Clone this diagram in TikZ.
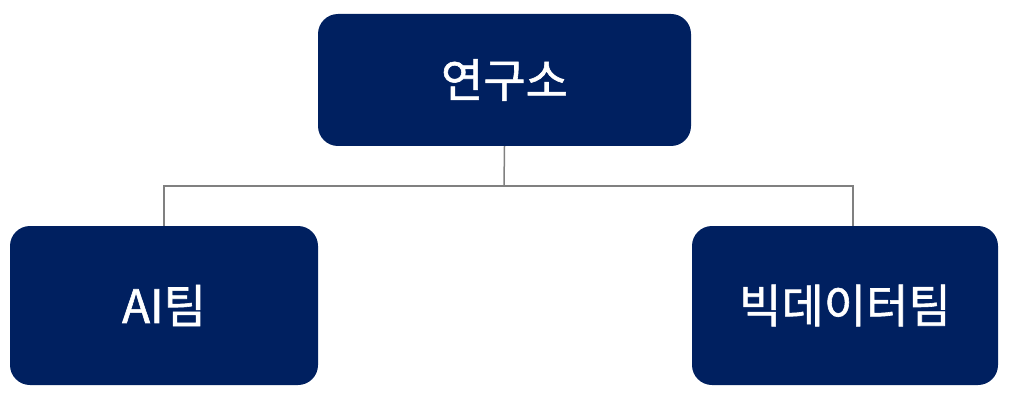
\documentclass[tikz,border=0pt]{standalone}
\usepackage{fontspec}
\usepackage{tikz}
\newfontfamily\krfont[FakeBold=1.3]{Noto Sans CJK KR}
\definecolor{navy}{HTML}{002060}
\definecolor{linegray}{HTML}{808080}

\begin{document}
\begin{tikzpicture}[x=1pt,y=-1pt,
	team/.style={fill=navy,rounded corners=20pt,text=white,inner sep=0pt,
		font=\krfont\fontsize{46}{52}\selectfont},
	link/.style={draw=linegray,line width=1.5pt}]
		\useasboundingbox (0,0) rectangle (1009,401);
		\node[team,minimum width=373pt,minimum height=132pt] (lab) at (504.5,80) {연구소};
		\node[team,minimum width=308pt,minimum height=159pt] (ai) at (164,305.5) {AI팀};
		\node[team,minimum width=306pt,minimum height=159pt] (bigdata) at (845,305.5) {빅데이터팀};
		\coordinate (split) at (504,186);
		\draw[link] (lab.south) -- (split);
		\draw[link] (ai.north) |- (split) -| ([xshift=8pt]bigdata.north);
\end{tikzpicture}
\end{document}
